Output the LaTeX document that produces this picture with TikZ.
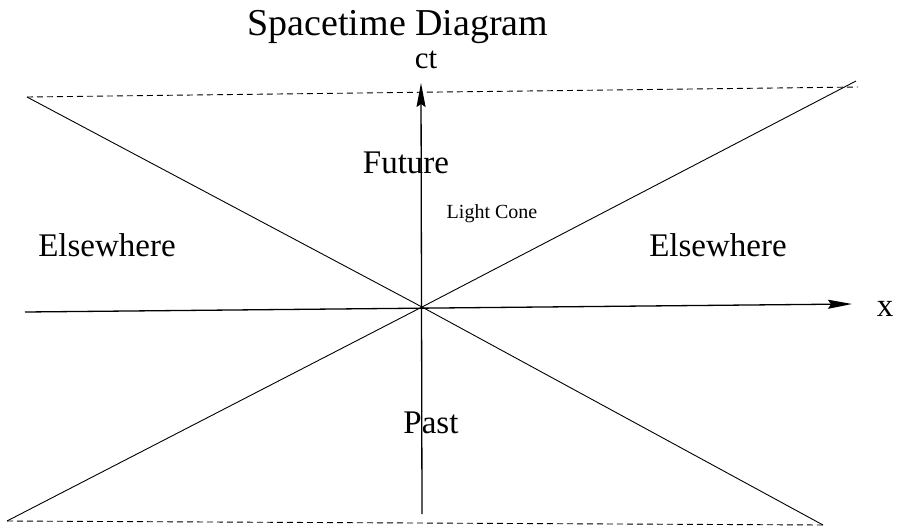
\documentclass[tikz,border=0pt]{standalone}
\usepackage{fontspec}
\setmainfont{Liberation Serif}
\usetikzlibrary{arrows.meta}

\begin{document}
\begin{tikzpicture}[x=1pt, y=-1pt,
    axis/.style={line width=1.3pt, -{Stealth[length=24pt, width=9pt, inset=3pt]}},
    cone/.style={line width=0.9pt},
    edge/.style={line width=0.9pt, dash pattern=on 6pt off 4pt},
    lbl/.style={anchor=base, inner sep=0pt, font=\fontsize{33}{33}\selectfont}]
  \useasboundingbox (0,0) rectangle (900,528);
  % corners of the cone
  \coordinate (O) at (422,307);
  \coordinate (tl) at (27,97);
  \coordinate (tr) at (856,81);
  \coordinate (te) at (858,87);
  \coordinate (bl) at (7,521);
  \coordinate (br) at (823,525);
  \coordinate (xs) at (25,312);
  \coordinate (xe) at (852,304);
  \coordinate (ts) at (422,514);
  \coordinate (tt) at (421,83);
  % axes
  \draw[axis] (xs) -- (xe);
  \draw[axis] (ts) -- (tt);
  % light cone
  \draw[cone] (tl) -- (O) -- (br);
  \draw[cone] (bl) -- (O) -- (tr);
  \draw[edge] (tl) -- (te);
  \draw[edge] (bl) -- (br);
  % labels
  \node[lbl, font=\fontsize{38}{38}\selectfont] (title) at (398,35) {Spacetime Diagram};
  \node[lbl, font=\fontsize{31}{31}\selectfont] (ct) at (426,68) {ct};
  \node[lbl] (x) at (885,316) {x};
  \node[lbl] (future) at (406,173) {Future};
  \node[lbl, font=\fontsize{20}{20}\selectfont] (lc) at (492,218) {Light Cone};
  \node[lbl] (ewl) at (107,256) {Elsewhere};
  \node[lbl] (ewr) at (718,256) {Elsewhere};
  \node[lbl] (past) at (431,433) {Past};
\end{tikzpicture}
\end{document}
